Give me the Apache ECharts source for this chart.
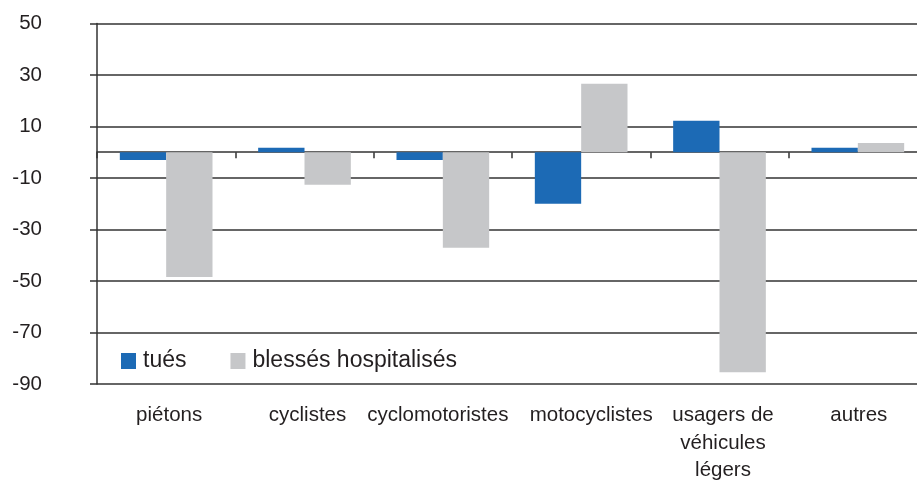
<!DOCTYPE html>
<html>
<head>
<meta charset="utf-8">
<script src="https://cdn.jsdelivr.net/npm/echarts@6/dist/echarts.min.js"></script>
<style>
html,body{margin:0;padding:0;background:#fff;}
#chart{width:917px;height:480px;}
</style>
</head>
<body>
<div id="chart"></div>
<script>
var categories = ['piétons', 'cyclistes', 'cyclomotoristes', 'motocyclistes', 'usagers de\nvéhicules\nlégers', 'autres'];
var tues = [-3, 1.7, -3, -20, 12.2, 1.7];
var blesses = [-48.4, -12.6, -37.1, 26.6, -85.4, 3.6];
var yTickLabels = ['-90', '-70', '-50', '-30', '-10', '10', '30', '50'];
var seriesNames = ['tués', 'blessés hospitalisés'];

var chart = echarts.init(document.getElementById('chart'), null, {renderer: 'canvas'});
var font = 'Liberation Sans, Arial, sans-serif';
var textColor = '#231f20';
var lineColor = '#333333';

// horizontal nudges of category labels (px), as placed in the original
var labelShift = [3, 3, -5, 10, 3.5, 1];
var rich = {};
labelShift.forEach(function (d, i) {
  rich['s' + i] = {
    fontFamily: font, fontSize: 20.5, color: textColor, lineHeight: 27.5,
    padding: d >= 0 ? [0, 0, 0, 2 * d] : [0, -2 * d, 0, 0]
  };
});

chart.setOption({
  animation: false,
  backgroundColor: '#ffffff',
  grid: {left: 97, right: -10, top: 23.5, bottom: 96, containLabel: false, outerBoundsMode: 'none'},
  legend: {
    left: 121,
    top: 349,
    padding: 0,
    orient: 'horizontal',
    itemWidth: 15,
    itemHeight: 16,
    itemGap: 44,
    icon: 'rect',
    textStyle: {fontFamily: font, fontSize: 23, color: textColor, lineHeight: 24, padding: [0, 0, 0, 2]},
    data: seriesNames
  },
  xAxis: [
    {
      type: 'category',
      data: categories,
      position: 'bottom',
      axisLine: {show: false, onZero: false},
      axisTick: {show: false},
      splitLine: {show: false},
      axisLabel: {
        fontFamily: font, fontSize: 20.5, color: textColor,
        margin: 18, lineHeight: 27.5, interval: 0,
        formatter: function (v, i) {
          return v.split('\n').map(function (line) { return '{s' + i + '|' + line + '}'; }).join('\n');
        },
        rich: rich
      }
    },
    {
      type: 'category',
      data: categories,
      position: 'bottom',
      axisLine: {show: true, onZero: true, onZeroAxisIndex: 0, lineStyle: {color: lineColor, width: 1.5}},
      axisTick: {show: true, length: 6, alignWithLabel: false, lineStyle: {color: lineColor, width: 1.5}},
      axisLabel: {show: false},
      splitLine: {show: false}
    }
  ],
  yAxis: [
    {
      type: 'value',
      min: -90,
      max: 50,
      position: 'left',
      axisLine: {show: true, lineStyle: {color: lineColor, width: 1.5}},
      axisTick: {show: false},
      axisLabel: {show: false},
      splitLine: {show: false}
    },
    {
      type: 'value',
      min: 0,
      max: 140,
      interval: 20,
      position: 'left',
      offset: 0,
      axisLine: {show: false},
      axisTick: {show: true, length: 7, inside: false, lineStyle: {color: lineColor, width: 1.5}},
      axisLabel: {
        fontFamily: font, fontSize: 20.5, color: textColor, margin: 55,
        formatter: function (v) { return yTickLabels[Math.round(v / 20)]; }
      },
      splitLine: {show: true, lineStyle: {color: lineColor, width: 1.5}}
    }
  ],
  series: [
    {
      name: seriesNames[0],
      type: 'bar',
      xAxisIndex: 0,
      yAxisIndex: 0,
      data: tues,
      barGap: '0%',
      barCategoryGap: '33%',
      itemStyle: {color: '#1c6ab5'},
      z: 3
    },
    {
      name: seriesNames[1],
      type: 'bar',
      xAxisIndex: 0,
      yAxisIndex: 0,
      data: blesses,
      barGap: '0%',
      barCategoryGap: '33%',
      itemStyle: {color: '#c6c7c9'},
      z: 3
    }
  ]
});
</script>
</body>
</html>
